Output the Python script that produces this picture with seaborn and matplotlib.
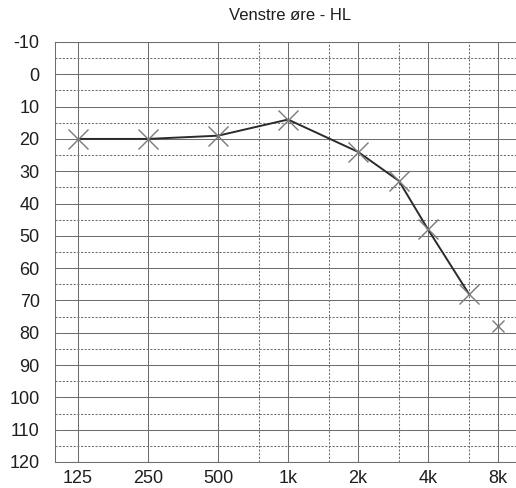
import matplotlib
matplotlib.use("Agg")
import matplotlib.pyplot as plt
import seaborn as sns
import pandas as pd

title = "Venstre øre - HL"
freqs = [125, 250, 500, 1000, 2000, 3000, 4000, 6000]
levels = [20, 20, 19, 14, 24, 33, 48, 68]
freq_single = [8000]
level_single = [78]
xtick_vals = [125, 250, 500, 1000, 2000, 4000, 8000]
xtick_labels = ["125", "250", "500", "1k", "2k", "4k", "8k"]
inter_freqs = [750, 1500, 3000, 6000]
ytick_vals = list(range(-10, 121, 10))

sns.set_theme(style="white")
plt.rcParams['font.family'] = ['Liberation Sans', 'DejaVu Sans']

fig = plt.figure(figsize=(5.16, 4.88), dpi=100)
ax = fig.add_axes([55/516, 1-462/488, (524-55)/516, (462-42)/488])

ax.set_xscale('log', base=2)
ax.set_xlim(125*2**(-23/70), 8000*2**(26/70))
ax.set_ylim(120, -10)

gc = "#6e6e6e"
for f in xtick_vals:
    ax.axvline(f, color=gc, lw=0.75, zorder=0)
for f in inter_freqs:
    ax.axvline(f, color=gc, lw=0.75, ls=(0, (2, 1.5)), zorder=0)
for y in ytick_vals:
    ax.axhline(y, color=gc, lw=0.75, zorder=0)
for y in range(-5, 120, 10):
    ax.axhline(y, color=gc, lw=0.75, ls=(0, (2, 1.5)), zorder=0)

df = pd.DataFrame({"freq": freqs, "level": levels})
sns.lineplot(data=df, x="freq", y="level", ax=ax, color="#2b2b2b", lw=1.4, zorder=3)
ax.plot(freqs, levels, ls="none", marker="x", ms=15, mew=1.0, color="#7a7a7a", zorder=4)
df2 = pd.DataFrame({"freq": freq_single, "level": level_single})
ax.plot(df2["freq"], df2["level"], ls="none", marker="x", ms=8, mew=1.0, color="#7a7a7a", zorder=4)

ax.set_xticks(xtick_vals)
ax.set_xticklabels(xtick_labels)
ax.minorticks_off()
ax.set_yticks(ytick_vals)
ax.set_yticklabels([str(v) for v in ytick_vals])
ax.tick_params(axis='both', length=0, labelsize=13, colors="#1e1e1e", pad=6)
ax.tick_params(axis='y', pad=11)
ax.set_xlabel("")
ax.set_ylabel("")
for s in ["right"]:
    ax.spines[s].set_visible(False)
for s in ["left", "top", "bottom"]:
    ax.spines[s].set_color(gc)
    ax.spines[s].set_linewidth(0.75)

fig.text(290/516, 1-16/488, title, ha="center", va="center", fontsize=12, color="#1e1e1e")

fig.savefig("out.png", dpi=100)
